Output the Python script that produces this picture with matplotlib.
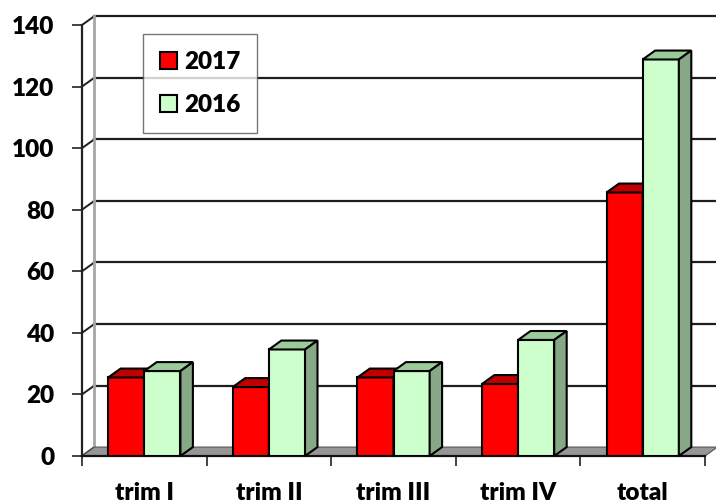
import matplotlib.pyplot as plt
from matplotlib.patches import Polygon, Rectangle

CATEGORIES = ["trim I", "trim II", "trim III", "trim IV", "total"]
VALUES_2017 = [25.5, 22.4, 25.5, 23.4, 85.6]
VALUES_2016 = [27.6, 34.6, 27.6, 37.7, 128.8]
SERIES = ["2017", "2016"]
Y_TICKS = [0, 20, 40, 60, 80, 100, 120, 140]

RED = {"face": "#ff0000", "top": "#c00000", "side": "#990000"}
GREEN = {"face": "#ccffcc", "top": "#99cc99", "side": "#86a886"}
FLOOR = "#969696"
GRID = "#1e1e1e"
WALL_EDGE = "#a6a6a6"

# fake 3D depth: x offset in category units, y offset in value units
DX = 0.1
DY = 2.9
BAR_W = 0.29
FONT_SIZE = 17.5
WEIGHT = "heavy"

plt.rcParams["font.family"] = ["Lato", "DejaVu Sans"]

fig = plt.figure(figsize=(7.16, 5.04), dpi=100)
ax = fig.add_axes([82 / 716, 48 / 504, 623 / 716, 431 / 504])
ax.set_xlim(-0.5, 4.5)
ax.set_ylim(0, 140)
for spine in ax.spines.values():
    spine.set_visible(False)

x_left, x_right = -0.5, 4.5
x_far = 4.5 + 2 * DX

# back wall gridlines + diagonals on the side wall
for v in Y_TICKS:
    if v > 0:
        ax.plot([x_left + DX, x_far], [v + DY, v + DY], color=GRID, lw=1.6, clip_on=False, zorder=1)
    ax.plot([x_left, x_left + DX], [v, v + DY], color=GRID, lw=1.4, clip_on=False, zorder=1)

# back-left wall edge
ax.plot([x_left + DX, x_left + DX], [DY, 140 + DY], color=WALL_EDGE, lw=2, clip_on=False, zorder=1)

# floor
ax.add_patch(Polygon([(x_left, 0), (x_right, 0), (x_right + DX, DY), (x_left + DX, DY)],
                     closed=True, facecolor=FLOOR, edgecolor="#555555", lw=0.8, clip_on=False, zorder=1))

# front axes lines
ax.plot([x_left, x_left], [0, 140], color="#222222", lw=1.6, clip_on=False, zorder=2)
ax.plot([x_left, x_right], [0, 0], color="#111111", lw=1.6, clip_on=False, zorder=2)


def draw_bar(x0, h, colors):
    ax.bar([x0], [h], width=BAR_W, align="edge", color=colors["face"], edgecolor="black", lw=1.5, zorder=3)
    x1 = x0 + BAR_W
    ax.add_patch(Polygon([(x0, h), (x1, h), (x1 + DX, h + DY), (x0 + DX, h + DY)], closed=True,
                         facecolor=colors["top"], edgecolor="black", lw=1.5, zorder=3, clip_on=False))
    ax.add_patch(Polygon([(x1, 0), (x1 + DX, DY), (x1 + DX, h + DY), (x1, h)], closed=True,
                         facecolor=colors["side"], edgecolor="black", lw=1.5, zorder=3, clip_on=False))


for i, (r, g) in enumerate(zip(VALUES_2017, VALUES_2016)):
    draw_bar(i - BAR_W, r, RED)
    draw_bar(i, g, GREEN)

# ticks
ax.set_yticks(Y_TICKS)
ax.set_yticklabels([str(v) for v in Y_TICKS], fontsize=FONT_SIZE, fontweight=WEIGHT)
ax.tick_params(axis="y", length=7, width=1.2, pad=13, color="#222222")
ax.set_xticks(range(len(CATEGORIES)))
ax.set_xticklabels(CATEGORIES, fontsize=FONT_SIZE, fontweight=WEIGHT)
ax.tick_params(axis="x", which="major", length=0, pad=19)
ax.set_xticks([i - 0.5 for i in range(len(CATEGORIES) + 1)], minor=True)
ax.tick_params(axis="x", which="minor", length=7, width=1.2, color="#222222")

# legend
handles = [Rectangle((0, 0), 1, 1, facecolor=RED["face"], edgecolor="black", lw=1.5),
           Rectangle((0, 0), 1, 1, facecolor=GREEN["face"], edgecolor="black", lw=1.5)]
leg = fig.legend(handles, SERIES, loc="upper left", bbox_to_anchor=(143 / 716, 1 - 34 / 504),
                 prop={"size": FONT_SIZE, "weight": WEIGHT}, frameon=True, fancybox=False,
                 edgecolor="#555555", handlelength=0.68, handleheight=0.68, handletextpad=0.3,
                 labelspacing=0.85, borderpad=0.7, borderaxespad=0)
leg.get_frame().set_linewidth(1.0)

fig.savefig("out.png", dpi=100)
